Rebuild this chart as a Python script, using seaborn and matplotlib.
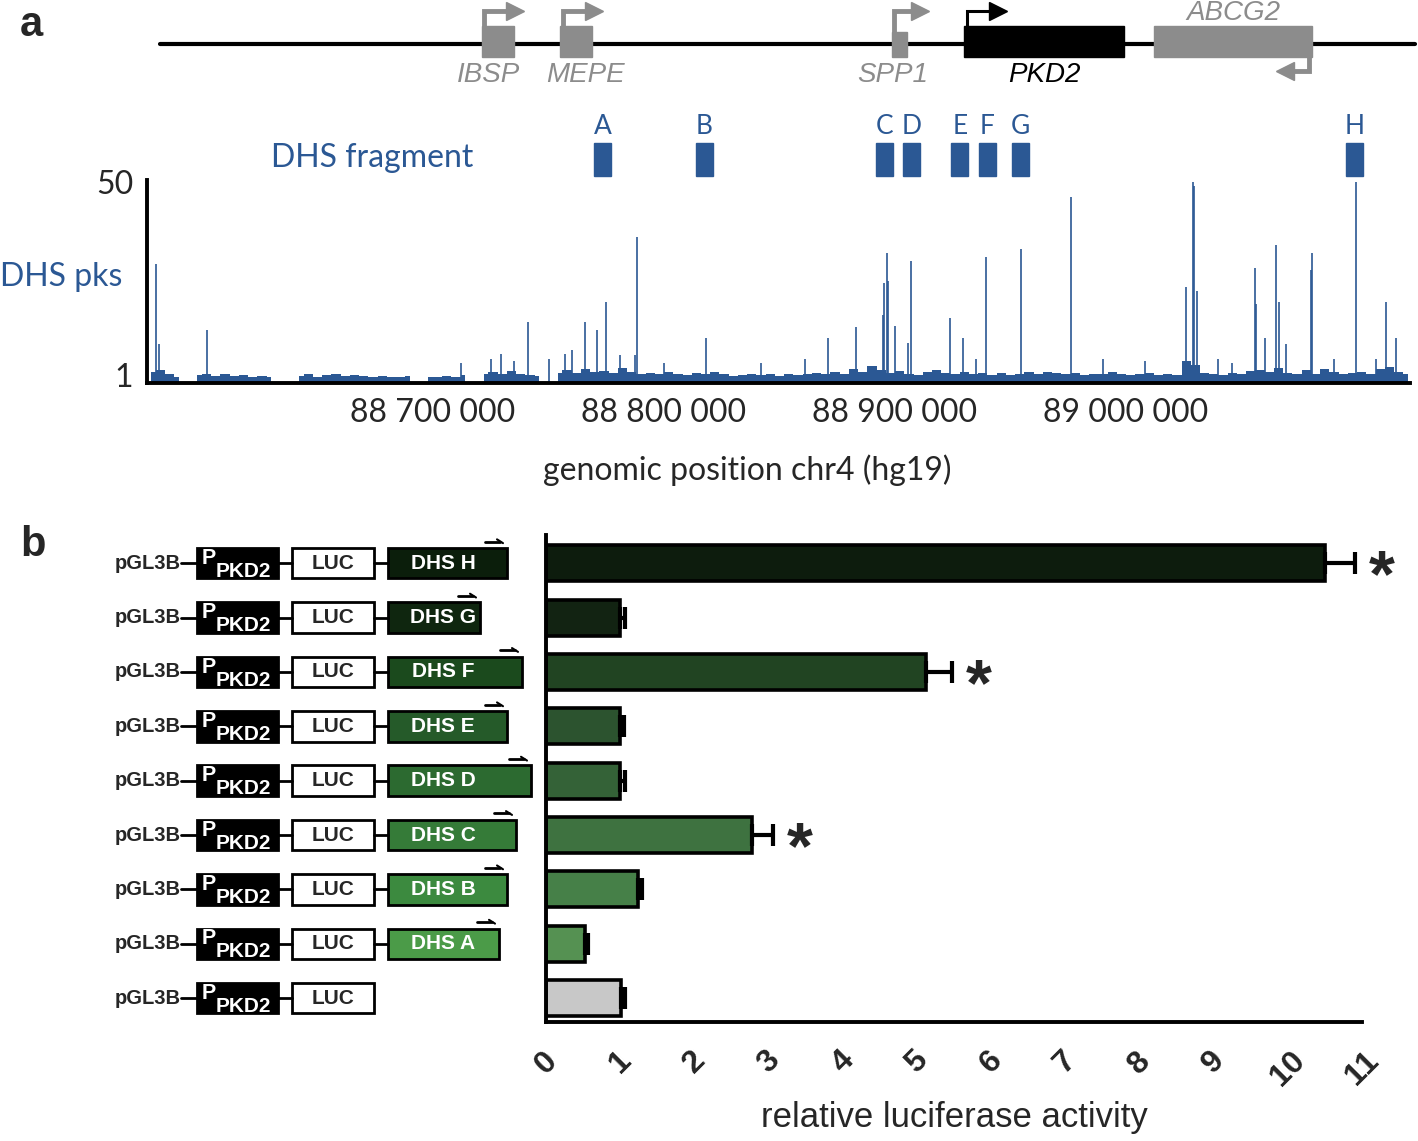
import numpy as np
import pandas as pd
import matplotlib.pyplot as plt
from matplotlib.patches import Rectangle
import seaborn as sns

# ── data ──────────────────────────────────────────────────────────────────────

# gene track, chr4 hg19 (kb)
genes       = ["IBSP", "MEPE", "SPP1", "PKD2", "ABCG2"]
gene_start  = [88721.0, 88755.0, 88898.5, 88930.0, 89012.0]
gene_end    = [88735.0, 88769.0, 88905.0, 88999.0, 89080.5]
gene_strand = [1, 1, 1, 1, -1]

# DHS fragments cloned (kb, centre)
frag_names = ["A", "B", "C", "D", "E", "F", "G", "H"]
frag_pos   = [88773.4, 88817.5, 88895.5, 88907.0, 88928.0, 88940.0, 88954.3, 89098.9]

# DHS peaks (kb, signal)
peak_pos = [88580.0, 88581.4, 88602.0, 88712.0, 88725.0, 88729.4, 88735.0, 88741.0,
            88750.0, 88757.0, 88760.0, 88766.0, 88771.0, 88775.0, 88781.0, 88787.5,
            88788.3, 88800.0, 88818.2, 88842.0, 88861.0, 88871.0, 88883.3, 88894.8,
            88895.2, 88896.5, 88897.0, 88900.0, 88905.4, 88907.0, 88923.8, 88929.4,
            88935.0, 88939.2, 88954.5, 88976.2, 88990.0, 89008.0, 89026.0, 89028.8,
            89029.2, 89030.7, 89040.0, 89046.0, 89055.8, 89056.2, 89060.0, 89064.9,
            89066.2, 89069.3, 89079.9, 89080.5, 89090.0, 89099.6, 89108.0, 89112.6,
            89117.0]
peak_val = [29.2, 9.0, 12.4, 4.0, 5.0, 6.3, 4.5, 14.4,
            5.0, 6.3, 7.3, 14.4, 12.4, 19.5, 6.0, 6.0,
            36.0, 4.0, 10.4, 4.0, 5.0, 10.4, 13.2, 16.2,
            24.3, 32.0, 25.0, 13.4, 9.1, 29.9, 15.5, 10.4,
            5.0, 31.0, 33.0, 46.2, 5.0, 4.5, 23.3, 50.0,
            49.0, 22.3, 5.0, 4.0, 28.2, 19.0, 10.4, 34.0,
            19.5, 9.0, 27.6, 32.0, 5.0, 50.0, 5.0, 19.5,
            10.4]

# background signal in 4 kb bins from 88 576 kb (nan = no reads)
noise_start = 88576.0
noise_bin   = 4.0
noise_val = [1.8, 2.4, 1.2, 0.6, np.nan, 1.0, 1.4, 0.9, 1.2, 0.7,
             1.1, 0.6, 0.9, 0.4, np.nan, np.nan, 0.8, 1.2, 0.6, 1.0,
             1.3, 0.7, 1.1, 0.8, 0.5, 0.9, 0.6, 0.4, 0.7, np.nan,
             0.6, 0.4, 0.8, 0.5, 1.0, np.nan, 1.2, 1.8, 1.3, 2.0,
             1.4, 1.1, 0.9, np.nan, 1.5, 2.2, 1.6, 2.6, 1.8, 2.0,
             1.5, 2.8, 1.7, 1.3, 1.6, 1.2, 1.9, 1.4, 1.0, 1.5,
             1.2, 1.7, 1.3, 0.9, 1.1, 1.4, 1.0, 1.3, 0.8, 1.2,
             1.0, 1.4, 1.6, 1.2, 1.8, 1.3, 2.6, 1.9, 3.2, 2.4,
             1.6, 2.0, 1.4, 1.1, 1.7, 2.2, 1.5, 1.2, 1.8, 1.4,
             1.6, 1.1, 1.5, 1.0, 1.3, 1.7, 1.2, 1.9, 1.5, 1.2,
             1.6, 1.1, 1.4, 1.3, 1.7, 1.2, 1.0, 1.4, 1.5, 1.1,
             1.3, 1.0, 4.5, 3.5, 1.6, 1.2, 1.0, 1.5, 1.3, 2.0,
             2.4, 1.8, 2.8, 1.6, 1.3, 2.2, 1.4, 2.5, 1.7, 1.2,
             1.5, 1.8, 1.2, 2.6, 3.0, 1.8, 1.4]

# luciferase assay
constructs   = ["DHS H", "DHS G", "DHS F", "DHS E", "DHS D", "DHS C", "DHS B", "DHS A", "none"]
activity     = [10.5, 1.0, 5.12, 1.0, 1.0, 2.78, 1.24, 0.53, 1.01]
activity_err = [0.40, 0.06, 0.35, 0.05, 0.07, 0.28, 0.06, 0.04, 0.05]
signif       = [True, False, True, False, False, True, False, False, False]
dhs_len      = [119, 92, 134, 119, 143, 128, 119, 111, 0]   # drawing length of insert box

# ── style ─────────────────────────────────────────────────────────────────────

sns.set_style("white")
plt.rcParams["font.family"] = ["Lato", "DejaVu Sans"]
BLUE = "#2b5894"
GREY = "#8c8c8c"
bar_colors = ["#0b1e0b", "#0f260f", "#1b4a1d", "#255a29", "#2c6a30",
              "#357b38", "#3c8a3f", "#4b9b48", "#c8c8c8"]
ARIAL = ["Liberation Sans", "DejaVu Sans"]
label_shift = {"IBSP": -4.0, "MEPE": 4.0, "SPP1": -2.6}   # label offsets (kb) as in the figure

W_PX, H_PX = 1418, 1141
fig = plt.figure(figsize=(W_PX / 100, H_PX / 100), dpi=100)

def box(l, t, r, b):
    return [l / W_PX, 1 - b / H_PX, (r - l) / W_PX, (b - t) / H_PX]

XLIM = (88576.2, 89122.9)

# ── a: gene track ─────────────────────────────────────────────────────────────

ax_g = fig.add_axes(box(147, 0, 1410, 95))
ax_g.set_xlim(*XLIM); ax_g.set_ylim(95, 0); ax_g.axis("off")
ax_g.plot([88581.8, 89125.1], [44, 44], color="black", lw=3, clip_on=False, zorder=1)

for name, s, e, st in zip(genes, gene_start, gene_end, gene_strand):
    col = "black" if name == "PKD2" else GREY
    top = 32 if name == "SPP1" else 26
    ax_g.add_patch(Rectangle((s, top), e - s, 57 - top, color=col, zorder=2))
    lw = 2.2 if name == "PKD2" else 3.5
    if st == 1:
        x0 = s + 1.2
        x1 = x0 + (13.4 if name != "SPP1" else 11.2)
        ax_g.plot([x0, x0, x1], [top, 11, 11], color=col, lw=lw, solid_joinstyle="miter", zorder=2)
        ax_g.plot([x1], [11], marker=">", color=col, ms=13, zorder=3)
    else:
        x0 = e - 1.2
        x1 = x0 - 10.4
        ax_g.plot([x0, x0, x1], [57, 71, 71], color=col, lw=lw, solid_joinstyle="miter", zorder=2)
        ax_g.plot([x1], [71], marker="<", color=col, ms=13, zorder=3)
    ty = 13 if name == "ABCG2" else 75
    ax_g.text((s + e) / 2 + label_shift.get(name, 0.0), ty, name, ha="center", va="center",
              fontsize=20, style="italic", color=col, family=ARIAL)

# ── a: DHS fragments ──────────────────────────────────────────────────────────

ax_f = fig.add_axes(box(147, 110, 1410, 178))
ax_f.set_xlim(*XLIM); ax_f.set_ylim(178, 110); ax_f.axis("off")
for n, p in zip(frag_names, frag_pos):
    ax_f.add_patch(Rectangle((p - 3.7, 143), 7.4, 33, color=BLUE))
    ax_f.text(p, 126, n, ha="center", va="center", fontsize=19, color=BLUE)
fig.text(372 / W_PX, 1 - 158 / H_PX, "DHS fragment", ha="center", va="center",
         fontsize=23, color=BLUE)

# ── a: DHS peaks ──────────────────────────────────────────────────────────────

ax_d = fig.add_axes(box(147, 180, 1410, 383))
centres = noise_start + noise_bin * (np.arange(len(noise_val)) + 0.5)
ax_d.fill_between(centres, -1, noise_val, step="mid", color=BLUE, lw=0)
ax_d.vlines(peak_pos, -1, peak_val, color=BLUE, lw=1.2)
ax_d.set_xlim(*XLIM); ax_d.set_ylim(-1.0, 50.5)
ticks = np.arange(88600, 89101, 50)
ax_d.set_xticks(ticks)
ax_d.set_xticklabels([f"{int(t * 1000):,}".replace(",", " ") if 88700 <= t <= 89000 and t % 100 == 0 else ""
                      for t in ticks])
ax_d.set_yticks([1, 50]); ax_d.set_yticklabels(["1", "50"])
ax_d.tick_params(axis="x", length=10, width=2.8, pad=1, labelsize=23)
ax_d.tick_params(axis="y", length=7, width=2.8, pad=3, labelsize=23)
for sp in ["top", "right"]:
    ax_d.spines[sp].set_visible(False)
for sp in ["left", "bottom"]:
    ax_d.spines[sp].set_linewidth(2.8); ax_d.spines[sp].set_color("black")
ax_d.set_xlabel("genomic position chr4 (hg19)", fontsize=23)
ax_d.xaxis.set_label_coords(0.475, -0.4286)
ax_d.xaxis.label.set_va("center")
fig.text(0.0, 1 - 277 / H_PX, "DHS pks", ha="left", va="center", fontsize=23, color=BLUE)

# ── b: luciferase bars ────────────────────────────────────────────────────────

df = pd.DataFrame({"construct": constructs, "activity": activity, "err": activity_err})
ax_b = fig.add_axes(box(546, 535, 1362, 1022))
sns.barplot(data=df, x="activity", y="construct", hue="construct", palette=bar_colors,
            orient="h", errorbar=None, width=0.66, edgecolor="black", linewidth=2.6,
            legend=False, ax=ax_b, zorder=2)
ypos = np.arange(len(df))
ax_b.errorbar(df["activity"], ypos, xerr=[np.zeros(len(df)), df["err"]], fmt="none",
              ecolor="black", elinewidth=3, capsize=8, capthick=3, zorder=3)
for y, v, e, s in zip(ypos, activity, activity_err, signif):
    if s:
        ax_b.text(v + e + 0.36, y + 0.3, "*", ha="center", va="center", fontsize=48,
                  fontweight="bold", family=ARIAL)
ax_b.set_xlim(0, 11); ax_b.set_ylim(8.44, -0.52)
ax_b.set_xticks(range(12))
ax_b.set_xticklabels([str(i) for i in range(12)], rotation=45, ha="center", va="top",
                     fontsize=23, fontweight="bold", family=ARIAL)
ax_b.set_yticks(ypos); ax_b.set_yticklabels([])
ax_b.tick_params(axis="x", length=12, width=2.8, pad=5)
ax_b.tick_params(axis="y", length=10, width=2.8)
for sp in ["top", "right"]:
    ax_b.spines[sp].set_visible(False)
for sp in ["left", "bottom"]:
    ax_b.spines[sp].set_linewidth(2.8); ax_b.spines[sp].set_color("black")
ax_b.set_ylabel("")
ax_b.set_xlabel("relative luciferase activity", fontsize=25, family=ARIAL)
ax_b.xaxis.set_label_coords(0.5, -0.197)
ax_b.xaxis.label.set_va("center")

# ── b: construct diagrams ─────────────────────────────────────────────────────

ax_c = fig.add_axes(box(100, 535, 540, 1022), sharey=ax_b)
ax_c.set_xlim(100, 540); ax_c.axis("off")
hh = 0.28
for y, L, col in zip(ypos, dhs_len, bar_colors):
    ax_c.text(181, y, "pGL3B", ha="right", va="center", fontsize=14.5, fontweight="bold", family=ARIAL)
    ax_c.plot([181, 197], [y, y], color="black", lw=2)
    ax_c.plot([278, 292], [y, y], color="black", lw=2)
    ax_c.add_patch(Rectangle((197, y - hh), 81, 2 * hh, facecolor="black", edgecolor="black", lw=2))
    ax_c.text(202, y - 0.09, "P", ha="left", va="center", color="white", fontsize=15.5,
              fontweight="bold", family=ARIAL)
    ax_c.text(216, y + 0.15, "PKD2", ha="left", va="center", color="white", fontsize=15,
              fontweight="bold", family=ARIAL)
    ax_c.add_patch(Rectangle((292, y - hh), 82, 2 * hh, facecolor="white", edgecolor="black", lw=2))
    ax_c.text(333, y, "LUC", ha="center", va="center", fontsize=15, fontweight="bold", family=ARIAL)
    if L:
        ax_c.plot([374, 388], [y, y], color="black", lw=2)
        ax_c.add_patch(Rectangle((388, y - hh), L, 2 * hh, facecolor=col, edgecolor="black", lw=2))
        ax_c.text(443, y, "DHS " + constructs[int(y)][-1], ha="center", va="center", color="white",
                  fontsize=15, fontweight="bold", family=ARIAL)
        xe = 388 + L
        ax_c.plot([xe - 22, xe - 7], [y - 0.40, y - 0.40], color="black", lw=2)
        ax_c.plot([xe - 10, xe - 4], [y - 0.44, y - 0.37], color="black", lw=1.5)

# ── panel letters ─────────────────────────────────────────────────────────────

fig.text(20 / W_PX, 1 - 25 / H_PX, "a", fontsize=30, fontweight="bold", va="center", family=ARIAL)
fig.text(20 / W_PX, 1 - 545 / H_PX, "b", fontsize=30, fontweight="bold", va="center", family=ARIAL)

fig.savefig("out.png", dpi=100)
